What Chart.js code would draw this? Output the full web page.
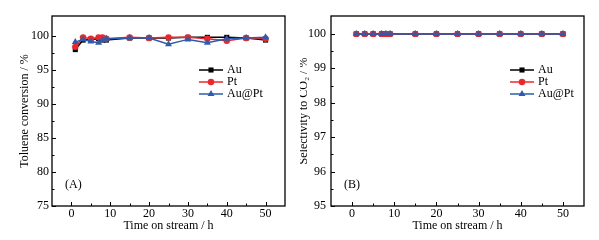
<!DOCTYPE html>
<html>
<head>
<meta charset="utf-8">
<script src="https://cdn.jsdelivr.net/npm/chart.js@4.4.1/dist/chart.umd.min.js"></script>
<style>
  body { margin: 0; background: #fff; }
  .wrap { display: flex; width: 599px; height: 240px; }
  canvas { display: block; }
</style>
</head>
<body>
<div class="wrap">
  <canvas id="chartA" width="300" height="240"></canvas>
  <canvas id="chartB" width="299" height="240"></canvas>
</div>
<script>
// time on stream (h)
const hours = [1, 3, 5, 7, 8, 9, 15, 20, 25, 30, 35, 40, 45, 50];

// (A) toluene conversion, %
const convAu   = [98.0, 99.4, 99.5, 99.6, 99.4, 99.4, 99.7, 99.7, 99.7, 99.8, 99.8, 99.8, 99.7, 99.4];
const convPt   = [98.4, 99.8, 99.6, 99.8, 99.8, 99.6, 99.8, 99.7, 99.8, 99.8, 99.6, 99.3, 99.7, 99.6];
const convAuPt = [99.1, 99.5, 99.2, 99.0, 99.4, 99.6, 99.7, 99.7, 98.8, 99.5, 99.0, 99.6, 99.7, 99.8];

// (B) selectivity to CO2, %
const selAu   = [100, 100, 100, 100, 100, 100, 100, 100, 100, 100, 100, 100, 100, 100];
const selPt   = [100, 100, 100, 100, 100, 100, 100, 100, 100, 100, 100, 100, 100, 100];
const selAuPt = [100, 100, 100, 100, 100, 100, 100, 100, 100, 100, 100, 100, 100, 100];

const seriesNames = ['Au', 'Pt', 'Au@Pt'];
const xTicks = [0, 10, 20, 30, 40, 50];
const yTicksA = [75, 80, 85, 90, 95, 100];
const yTicksB = [95, 96, 97, 98, 99, 100];

const FONT = "'Liberation Serif', 'Times New Roman', serif";
const styles = [
  { color: '#000000', point: 'rect', radius: 3.6 },
  { color: '#f2242a', point: 'circle', radius: 3.2 },
  { color: '#2a5db0', point: 'triangle', radius: 4 }
];

function makeSets(lists) {
  return lists.map(function (vals, i) {
    return {
      label: seriesNames[i],
      data: hours.map(function (h, k) { return { x: h, y: vals[k] }; }),
      borderColor: styles[i].color,
      backgroundColor: styles[i].color,
      borderWidth: 1.5,
      pointStyle: styles[i].point,
      pointRadius: styles[i].radius,
      pointBorderWidth: 0,
      order: 3 - i
    };
  });
}

// frame, inward ticks, legend and panel label
const decor = {
  id: 'decor',
  afterDatasetsDraw(chart, args, opts) {
    const ctx = chart.ctx;
    const a = chart.chartArea;
    const xs = chart.scales.x, ys = chart.scales.y;
    ctx.save();
    ctx.strokeStyle = '#000';
    ctx.lineWidth = 1.3;
    ctx.strokeRect(a.left, a.top, a.right - a.left, a.bottom - a.top);

    ctx.lineWidth = 1;
    ctx.beginPath();
    for (let v = 0; v <= 50; v += 5) {
      const px = Math.round(xs.getPixelForValue(v)) + 0.5;
      const len = v % 10 === 0 ? 4 : 2.5;
      ctx.moveTo(px, a.bottom);
      ctx.lineTo(px, a.bottom - len);
    }
    for (let v = opts.yMin; v <= opts.yTop + 1e-6; v += opts.yMinor) {
      const py = Math.round(ys.getPixelForValue(v)) + 0.5;
      const major = Math.abs(v / opts.yMajor - Math.round(v / opts.yMajor)) < 1e-6;
      ctx.moveTo(a.left, py);
      ctx.lineTo(a.left + (major ? 4 : 2.5), py);
    }
    ctx.stroke();

    // legend
    ctx.font = '12px ' + FONT;
    ctx.textBaseline = 'middle';
    ctx.fillStyle = '#000';
    chart.data.datasets.forEach(function (ds, i) {
      const y = a.top + opts.legendTop + i * 12;
      const x0 = a.right - opts.legendRight;
      const x1 = x0 + 24;
      ctx.strokeStyle = ds.borderColor;
      ctx.lineWidth = 1.5;
      ctx.beginPath();
      ctx.moveTo(x0, y);
      ctx.lineTo(x1, y);
      ctx.stroke();
      ctx.fillStyle = ds.backgroundColor;
      Chart.helpers.drawPoint(ctx, { pointStyle: ds.pointStyle, radius: ds.pointRadius, rotation: 0, borderWidth: 0 }, (x0 + x1) / 2, y);
      ctx.fillStyle = '#000';
      ctx.fillText(ds.label, x1 + 4, y);
    });

    ctx.fillText(opts.panel, a.left + 13, a.bottom - 21);
    ctx.restore();
  }
};

function makeChart(id, lists, yMin, yMax, yTicks, yTitle, extra) {
  return new Chart(document.getElementById(id), {
    type: 'line',
    data: { datasets: makeSets(lists) },
    options: {
      responsive: false,
      animation: false,
      layout: { padding: { top: 16, right: 15, left: 0, bottom: 0 } },
      plugins: {
        legend: { display: false },
        tooltip: { enabled: false },
        decor: extra
      },
      scales: {
        x: {
          type: 'linear',
          min: -5,
          max: 55,
          afterBuildTicks: function (s) { s.ticks = xTicks.map(function (v) { return { value: v }; }); },
          afterFit: function (s) { s.height = 34; },
          grid: { display: false, drawTicks: false },
          border: { display: false },
          ticks: { color: '#000', padding: 1, font: { family: FONT, size: 12 } },
          title: { display: true, text: 'Time on stream / h', color: '#000', padding: { top: 0, bottom: 7 }, font: { family: FONT, size: 12 } }
        },
        y: {
          min: yMin,
          max: yMax,
          afterBuildTicks: function (s) { s.ticks = yTicks.map(function (v) { return { value: v }; }); },
          afterFit: function (s) { s.width = extra.yWidth; },
          grid: { display: false, drawTicks: false },
          border: { display: false },
          ticks: { color: '#000', padding: extra.tickPad, font: { family: FONT, size: 12 } },
          title: { display: true, text: yTitle, color: '#000', padding: { top: extra.titlePad, bottom: 0 }, font: { family: FONT, size: 12 } }
        }
      }
    },
    plugins: [decor]
  });
}

makeChart('chartA', [convAu, convPt, convAuPt], 75, 102.94, yTicksA, 'Toluene conversion / %',
  { yMin: 75, yTop: 100, yMajor: 5, yMinor: 2.5, yWidth: 52, tickPad: 3, titlePad: 18, legendTop: 54, legendRight: 86, panel: '(A)' });

makeChart('chartB', [selAu, selPt, selAuPt], 95, 100.52, yTicksB, 'Selectivity to CO\u2082 / %',
  { yMin: 95, yTop: 100, yMajor: 1, yMinor: 0.5, yWidth: 31, tickPad: 5, titlePad: -3, legendTop: 54, legendRight: 74, panel: '(B)' });
</script>
</body>
</html>
